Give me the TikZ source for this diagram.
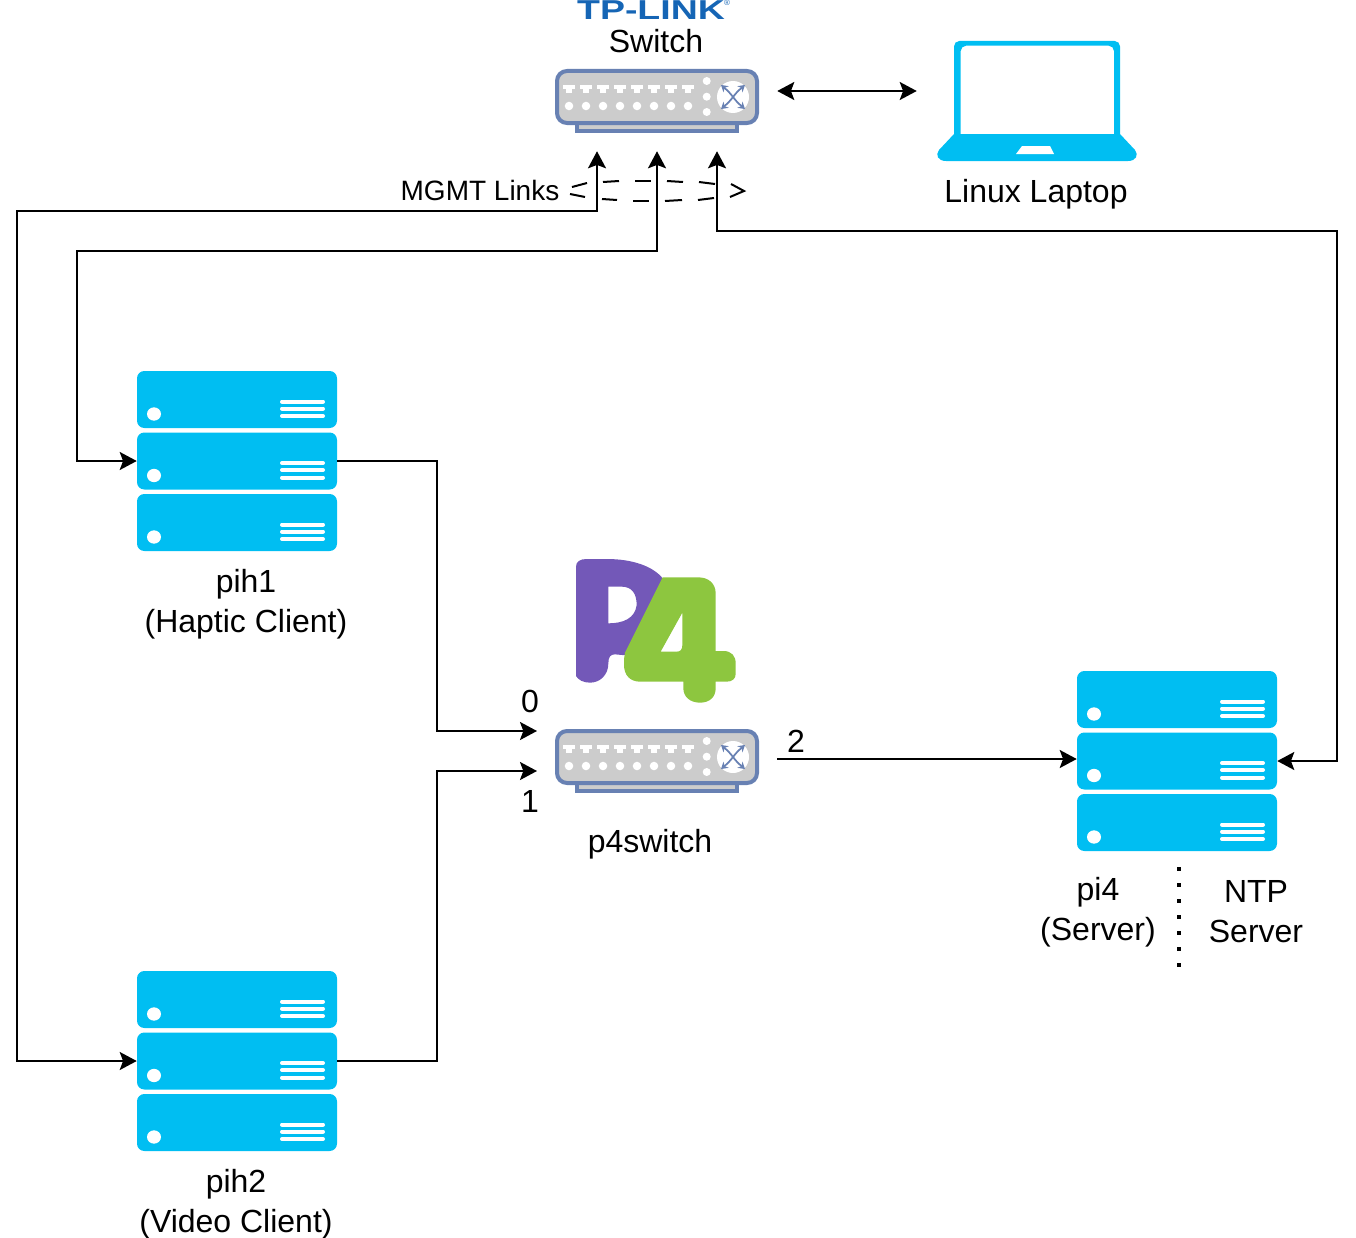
\documentclass[tikz,border=0pt]{standalone}
\usepackage{fontspec}
\setmainfont{Liberation Sans}
\usetikzlibrary{arrows.meta}

\definecolor{servercol}{HTML}{00BEF2}
\definecolor{switchline}{HTML}{6881B3}
\definecolor{switchfill}{HTML}{CCCCCC}
\definecolor{tpblue}{HTML}{1565B5}
\definecolor{pfourpurple}{HTML}{7358B8}
\definecolor{pfourgreen}{HTML}{8DC63F}

\tikzset{
  x=0.75pt, y=-0.75pt,
  link/.style={line width=1.5pt, -{Stealth[length=12.75pt,width=13.5pt,inset=2.5pt]}},
  biglink/.style={line width=1.5pt, {Stealth[length=12.75pt,width=13.5pt,inset=2.5pt]}-{Stealth[length=12.75pt,width=13.5pt,inset=2.5pt]}},
  lbl/.style={font=\fontsize{24}{30}\selectfont, align=center, inner sep=0pt},
  hostbox/.style={minimum width=150pt, minimum height=135pt, inner sep=0pt},
  swbox/.style={minimum width=180pt, minimum height=90pt, inner sep=0pt},
  pics/servericon/.style={code={
    \foreach \r in {0,61.5,123} {
      \fill[servercol, rounded corners=5.5pt] (-100,-90+\r) rectangle (100,-33+\r);
      \fill[white] (-83,-47+\r) ellipse (5.25pt and 5pt);
      \foreach \l in {-59.5,-52.5,-45} {
        \draw[white, line width=3pt, line cap=round] (45,\l+\r) -- (86,\l+\r);
      }
    }
  }},
  pics/switchicon/.style={code={
    \draw[switchline, fill=switchfill, line width=3pt] (-80,22) rectangle (80,30);
    \draw[switchline, fill=switchfill, line width=3pt, rounded corners=7.5pt] (-100,-30) rectangle (100,22);
    \foreach \i in {0,...,7} {
      \fill[white] (-94+17*\i,-16) rectangle (-82+17*\i,-12);
      \fill[white] (-91+17*\i,-12) rectangle (-85+17*\i,-8);
      \fill[white] (-88+17*\i,5) circle (3.2pt);
    }
    \foreach \d in {-20,-4.3,11} {
      \fill[white] (49.7,\d) circle (3pt);
    }
    \fill[white] (76,-4) circle (12pt);
    \draw[switchline, line width=1.3pt, {Stealth[length=5pt,width=6pt]}-{Stealth[length=5pt,width=6pt]}] (64,-16) .. controls (76,-6) and (76,-2) .. (88,8);
    \draw[switchline, line width=1.3pt, {Stealth[length=5pt,width=6pt]}-{Stealth[length=5pt,width=6pt]}] (88,-16) .. controls (76,-6) and (76,-2) .. (64,8);
  }}
}

\begin{document}
\begin{tikzpicture}
\useasboundingbox (0,0) rectangle (1356,1238);

% switch and laptop at the top
\node[swbox] (switch) at (657,91) {};
\pic at (657,101) {switchicon};
\node[hostbox, minimum width=180pt] (laptop) at (1037,91) {};
\node[lbl] (switchlbl) at (656,41) {Switch};
\node[lbl] (laptoplbl) at (1036,194) {Linux Laptop};

% logo on top of the switch
\node[font=\fontsize{20.5}{24}\bfseries\selectfont, text=tpblue, xscale=1.37, inner sep=0pt, anchor=base] (tplink) at (651,20) {TP-LINK};
\node[font=\fontsize{6}{7}\selectfont, text=tpblue, inner sep=0pt] (tpreg) at (727,3) {®};

% laptop drawing
\fill[servercol, rounded corners=4pt, even odd rule]
  (954,142) -- (954,41) -- (1120,41) -- (1120,142) -- cycle
  (960.7,142) -- (960.7,45.7) -- (1114,45.7) -- (1114,142) -- cycle;
\fill[servercol] (954,134) -- (1120,134) -- (1135,150) .. controls (1139,155) and (1136,161) .. (1128,161)
  -- (946,161) .. controls (938,161) and (935,155) .. (939,150) -- cycle;
\fill[white] (1022,146) -- (1050,146) -- (1054,154) -- (1016,154) -- cycle;

% the hosts
\node[hostbox] (pih1) at (237,461) {};
\pic at (237,461) {servericon};
\node[hostbox] (pih2) at (237,1061) {};
\pic at (237,1061) {servericon};
\node[hostbox] (pi4) at (1177,761) {};
\pic at (1177,761) {servericon};

\node[lbl] (pih1lbl) at (246,604) {pih1\\(Haptic Client)};
\node[lbl] (pih2lbl) at (236,1204) {pih2\\(Video Client)};
\node[lbl] (pi4lbl) at (1098,912) {pi4\\(Server)};
\node[lbl] (ntplbl) at (1256,912) {NTP\\Server};

% p4 switch and its logo
\node[swbox] (p4switch) at (657,759) {};
\pic at (657,761) {switchicon};
\node[lbl] (p4lbl) at (650,844) {p4switch};
\begin{scope}[shift={(540,550)}, x=0.25pt, y=-0.25pt]
\fill[pfourpurple, even odd rule]
  (108,50) .. controls (108,35) and (120,27) .. (140,27) -- (200,27)
  .. controls (280,27) and (340,50) .. (368,85) -- (300,320) -- (225,313)
  .. controls (212,313) and (205,320) .. (205,340)
  .. controls (205,375) and (180,398) .. (150,398)
  .. controls (130,398) and (115,390) .. (108,378) -- cycle
  (205,110) -- (245,110) .. controls (275,110) and (290,130) .. (290,165)
  .. controls (285,205) and (250,220) .. (205,220) -- cycle;
\fill[pfourgreen, even odd rule]
  (368,82) -- (255,308) .. controls (252,320) and (252,330) .. (252,345)
  .. controls (252,375) and (270,395) .. (300,395) -- (430,395) -- (430,415)
  .. controls (430,440) and (450,458) .. (480,458)
  .. controls (510,458) and (527,440) .. (527,415) -- (527,395) -- (560,395)
  .. controls (578,395) and (587,385) .. (587,372) -- (587,340)
  .. controls (587,318) and (575,303) .. (550,303) -- (527,303) -- (527,130)
  .. controls (527,100) and (505,82) .. (475,82) -- cycle
  (427,188) -- (362,305) -- (410,305) .. controls (422,305) and (427,298) .. (427,285) -- cycle;
\end{scope}

% free ends at the p4 switch ports
\coordinate (port0) at (537,731);
\coordinate (port1) at (537,771);

% data links
\draw[link] (pih1.east) -- (437,461) -- (437,731) -- (port0);
\draw[link] (pih2.east) -- (437,1061) -- (437,771) -- (port1);
\draw[link] (p4switch.east) -- (p4switch.east -| pi4.west);
\draw[biglink] (switch.east) -- (laptop.west);

% mgmt links
\draw[biglink] (pih2.west) -- (17,1061) -- (17,211) -- (597,211) -- ([xshift=-45pt]switch.south);
\draw[biglink] (pih1.west) -- (77,461) -- (77,251) -- (657,251) -- (switch.south);
\draw[biglink] (pi4.east) -- (1337,761) -- (1337,231) -- (717,231) -- ([xshift=45pt]switch.south);

% dashed arrow for the mgmt links
\foreach \xa/\ya/\xb/\yb in {587/183/572/187, 570/194/585/197, 603/182/619/181, 635/181/651/181, 667/181/683/182, 699/182/715/184,
                   602/199/617/200, 633/201/649/201, 665/201/682/200, 698/200/714/198} {
  \draw[line width=1.5pt] (\xa,\ya) -- (\xb,\yb);
}
\draw[line width=1.5pt] (731,184) -- (744,191) -- (730,197);
\node[font=\fontsize{21}{25}\selectfont, inner sep=0pt] (mgmtlbl) at (480,190) {MGMT Links};

% port numbers
\node[lbl] (zero) at (530,701) {0};
\node[lbl] (one) at (530,801) {1};
\node[lbl] (two) at (796,741) {2};

% dotted line between pi4 and ntp
\coordinate (septop) at (1179,867);
\coordinate (sepbot) at (1179,967);
\draw[line width=3pt, dash pattern=on 3pt off 9pt] (septop) -- (sepbot);

\end{tikzpicture}
\end{document}
